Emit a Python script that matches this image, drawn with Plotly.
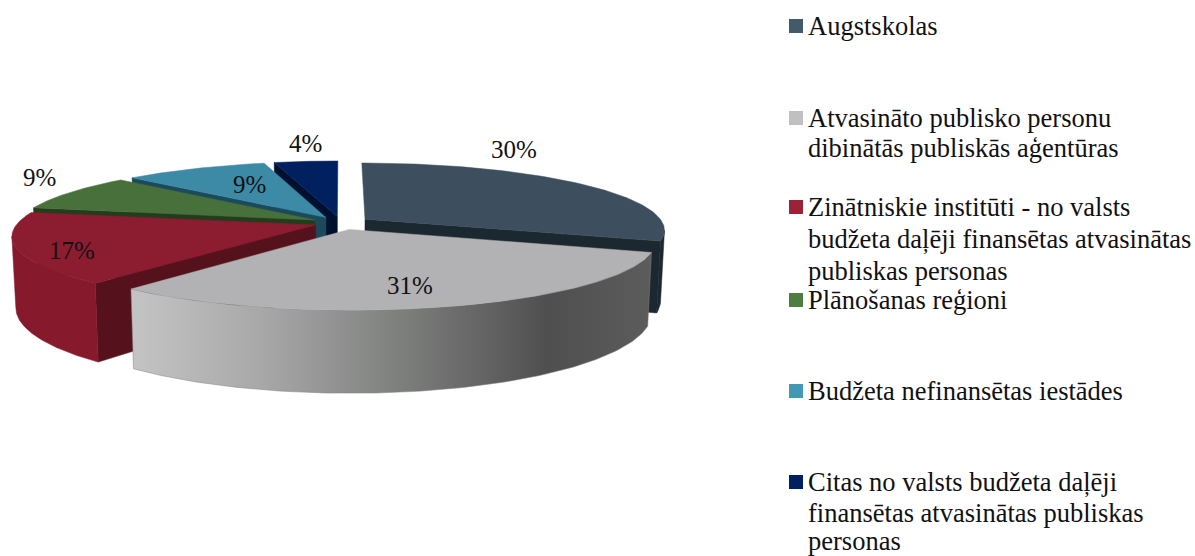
import numpy as np
import plotly.graph_objects as go

categories = ["Augstskolas", "Atvasināto publisko personu dibinātās publiskās aģentūras",
              "Zinātniskie institūti - no valsts budžeta daļēji finansētas atvasinātas publiskas personas",
              "Plānošanas reģioni", "Budžeta nefinansētas iestādes",
              "Citas no valsts budžeta daļēji finansētas atvasinātas publiskas personas"]
shares = [30.2, 30.8, 17.1, 8.8, 9.1, 4.0]
pct_labels = ["30%", "31%", "17%", "9%", "9%", "4%"]
legend_lines = [["Augstskolas"],
                ["Atvasināto publisko personu", "dibinātās publiskās aģentūras"],
                ["Zinātniskie institūti - no valsts", "budžeta daļēji finansētas atvasinātas", "publiskas personas"],
                ["Plānošanas reģioni"],
                ["Budžeta nefinansētas iestādes"],
                ["Citas no valsts budžeta daļēji", "finansētas atvasinātas publiskas", "personas"]]

top_col = ["#3d4f5f", "#b2b2b4", "#8c1c30", "#47703a", "#3c8aa5", "#00205f"]
side_col = ["#1c282f", "#808080", "#86192c", "#3f6434", "#35788f", "#001a4d"]
wall_col = ["#1c282f", "#666666", "#56121c", "#253b1e", "#1c4a5b", "#00102f"]
leg_col = ["#44596c", "#c0c0c0", "#9c2238", "#4e7d40", "#4299b4", "#002060"]
gray_gradient = [[0, "#c4c4c4"], [0.25, "#a8a8a8"], [0.5, "#808280"], [0.8, "#4f4f4f"], [1, "#5c5c5c"]]
explode = [0.1, 0.1, 0.09, 0.1, 0.1, 0.1]

label_pos = [(514, 149), (410, 285), (72, 250), (39, 177), (249, 184), (305, 143)]
legend_y = [[26], [118, 148], [207, 239, 271], [300], [391], [482, 513, 541]]

CX, CY, R, RY, K, DEPTH, NARROW = 341, 223, 298, 66, 0.155, 69, 0.012
FONT = "Liberation Serif"


def project(X, Yf, z=0.0):
    w = 1 / (1 - K * Yf)
    return CX + R * X * w * (1 - NARROW * z), CY + (RY * Yf + DEPTH * z) * w


def poly(fig, xs, ys, color, name, gradient=None):
    kw = dict(fillgradient=dict(type="horizontal", colorscale=gradient)) if gradient else dict(fillcolor=color)
    fig.add_trace(go.Scatter(x=xs, y=ys, mode="lines", fill="toself", line=dict(width=0.5, color=color),
                             name=name, showlegend=False, hoverinfo="name", **kw))


fig = go.Figure()
edges = np.radians(np.concatenate([[0], np.cumsum(shares)]) * 3.6)
for i in [5, 4, 3, 0, 2, 1]:
    a0, a1 = edges[i], edges[i + 1]
    mid = (a0 + a1) / 2
    ox, oy = explode[i] * np.sin(mid), -explode[i] * np.cos(mid)
    t = np.linspace(a0, a1, 120)
    ax, ay = ox + np.sin(t), oy - np.cos(t)

    def wall(a):
        px = np.array([ox, ox + np.sin(a), ox + np.sin(a), ox])
        py = np.array([oy, oy - np.cos(a), oy - np.cos(a), oy])
        z = np.array([0, 0, 1, 1])
        x, y = project(px, py, z)
        poly(fig, list(x) + [x[0]], list(y) + [y[0]], wall_col[i], categories[i])

    if -np.cos(a0 - np.pi / 2) > 0:
        wall(a0)
    if -np.cos(a1 + np.pi / 2) > 0:
        wall(a1)
    # outer rim runs from the silhouette point (widest x) round to the front
    rim_x, _ = project(ax, ay, 0)
    if np.sin(mid) > 0:
        keep = np.arange(len(t)) >= np.argmax(rim_x)
    else:
        keep = np.arange(len(t)) <= np.argmin(rim_x)
    if keep.sum() > 1:
        tx, ty = project(ax[keep], ay[keep], 0)
        bx, by = project(ax[keep], ay[keep], 1)
        xs = np.concatenate([tx, bx[::-1], tx[:1]])
        ys = np.concatenate([ty, by[::-1], ty[:1]])
        poly(fig, xs, ys, side_col[i], categories[i], gray_gradient if i == 1 else None)
    x, y = project(np.concatenate([[ox], ax, [ox]]), np.concatenate([[oy], ay, [oy]]))
    poly(fig, x, y, top_col[i], categories[i])

annotations = []
for txt, (px, py) in zip(pct_labels, label_pos):
    annotations.append(dict(x=px, y=py, text=txt, showarrow=False, xanchor="center", yanchor="middle",
                            font=dict(family=FONT, size=25, color="#111111")))
for i, cat in enumerate(categories):
    fig.add_trace(go.Scatter(x=[796], y=[legend_y[i][0]], mode="markers", name=cat, showlegend=False,
                             marker=dict(symbol="square", size=14, color=leg_col[i], line=dict(width=0))))
    for line, ly in zip(legend_lines[i], legend_y[i]):
        annotations.append(dict(x=807, y=ly, text=line, showarrow=False, xanchor="left", yanchor="middle",
                                borderpad=0, font=dict(family=FONT, size=26.5, color="#111111")))

fig.update_layout(width=1195, height=556, margin=dict(l=0, r=0, t=0, b=0), autosize=False,
                  paper_bgcolor="white", plot_bgcolor="white", showlegend=False, annotations=annotations,
                  xaxis=dict(range=[0, 1195], visible=False, fixedrange=True),
                  yaxis=dict(range=[556, 0], visible=False, fixedrange=True))
fig.write_html("out.html", config=dict(displayModeBar=False),
               post_script="document.body.style.margin='0';document.body.style.overflow='hidden';")
